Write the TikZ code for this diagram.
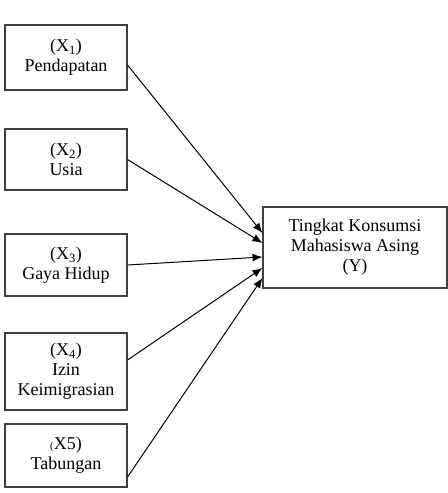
\documentclass[tikz,border=0pt]{standalone}
\usepackage{fontspec}
\setmainfont{Liberation Serif}
\usepackage{xcolor}
\usetikzlibrary{positioning,arrows.meta,calc}
\definecolor{Rule}{HTML}{404040}

\begin{document}
\begin{tikzpicture}[
  font=\fontsize{13.5}{15}\selectfont, x=0.75pt, y=-0.75pt,
  box/.style={draw=Rule,line width=.8pt,align=center,inner sep=2pt,
              minimum width=91.5pt},
  arr/.style={-{Latex[length=7.5pt,width=6pt]},line width=.75pt,draw=black}]
\useasboundingbox (0,0) rectangle (448,493);

\node[box,minimum height=48.75pt] (x1) at (66,57.5)
  {(X\textsubscript{1})\\Pendapatan};
\node[box,minimum height=45.75pt] (x2) at (66,159.5)
  {(X\textsubscript{2})\\Usia};
\node[box,minimum height=46.5pt] (x3) at (66,265)
  {(X\textsubscript{3})\\Gaya Hidup};
\node[box,minimum height=57.75pt] (x4) at (66,371.5)
  {(X\textsubscript{4})\\Izin\\Keimigrasian};
\node[box,minimum height=47.25pt] (x5) at (66,455.5)
  {{\footnotesize(}X5)\\Tabungan};
\node[box,minimum width=138pt,minimum height=60.75pt] (y) at (355,247.5)
  {Tingkat Konsumsi\\Mahasiswa Asing\\(Y)};

\draw[arr] ($(x1.east)+(0,7.5)$) -- ($(y.west)+(0,-14.5)$);
\draw[arr] (x2.east) -- ($(y.west)+(0,-4.5)$);
\draw[arr] (x3.east) -- ($(y.west)+(0,9.5)$);
\draw[arr] ($(x4.east)+(0,-11.5)$) -- ($(y.west)+(0,20.5)$);
\draw[arr] ($(x5.east)+(0,21.5)$) -- ($(y.west)+(0,30.5)$);
\end{tikzpicture}
\end{document}
